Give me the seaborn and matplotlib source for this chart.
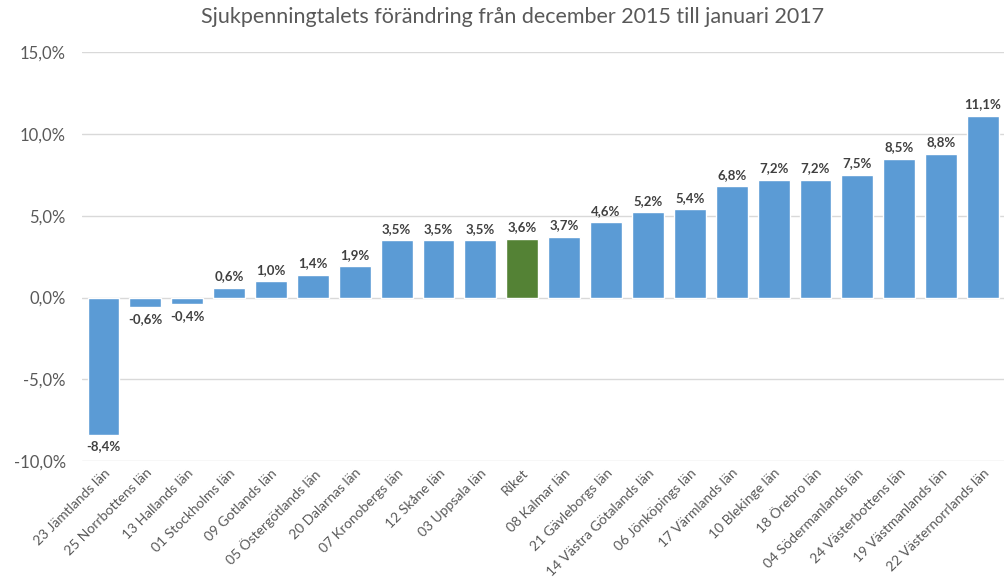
import matplotlib
matplotlib.use("Agg")
import matplotlib.pyplot as plt
import seaborn as sns
import pandas as pd

regions = [
    "23 Jämtlands län", "25 Norrbottens län", "13 Hallands län", "01 Stockholms län",
    "09 Gotlands län", "05 Östergötlands län", "20 Dalarnas län", "07 Kronobergs län",
    "12 Skåne län", "03 Uppsala län", "Riket", "08 Kalmar län", "21 Gävleborgs län",
    "14 Västra Götalands län", "06 Jönköpings län", "17 Värmlands län", "10 Blekinge län",
    "18 Örebro län", "04 Södermanlands län", "24 Västerbottens län", "19 Västmanlands län",
    "22 Västernorrlands län",
]
change = [-8.4, -0.6, -0.4, 0.6, 1.0, 1.4, 1.9, 3.5, 3.5, 3.5, 3.6, 3.7, 4.6,
          5.2, 5.4, 6.8, 7.2, 7.2, 7.5, 8.5, 8.8, 11.1]
yticks = [-10, -5, 0, 5, 10, 15]

BLUE = "#5B9BD5"
GREEN = "#548235"
GRAY = "#595959"

df = pd.DataFrame({"region": regions, "change": change})
palette = [GREEN if r == "Riket" else BLUE for r in regions]

sns.set_style("white")
plt.rcParams["font.family"] = ["Lato", "DejaVu Sans"]

fig = plt.figure(figsize=(10.06, 5.86), dpi=100)
ax = fig.add_axes([0.082, 0.213, 0.916, 0.698])

sns.barplot(data=df, x="region", y="change", hue="region", palette=palette,
            legend=False, width=0.76, saturation=1, ax=ax, zorder=3)

for cont in ax.containers:
    labels = [f"{v:.1f}%".replace(".", ",") for v in cont.datavalues]
    ax.bar_label(cont, labels=labels, padding=4, fontsize=9.5, fontweight="bold",
                 color="#404040")

ax.set_ylim(-10, 15)
ax.set_yticks(yticks)
ax.set_yticklabels([f"{t:.1f}%".replace(".", ",") for t in yticks], fontsize=12, color=GRAY)
ax.yaxis.grid(True, color="#D9D9D9", linewidth=1, zorder=0)
ax.set_axisbelow(True)
ax.set_xlim(-0.5, len(regions) - 0.5)
for s in ax.spines.values():
    s.set_visible(False)
ax.tick_params(axis="both", length=0, pad=12)
ax.tick_params(axis="x", pad=4)
plt.setp(ax.get_xticklabels(), rotation=45, ha="right", rotation_mode="anchor",
         fontsize=10, color=GRAY)
ax.set_xlabel("")
ax.set_ylabel("")

fig.suptitle("Sjukpenningtalets förändring från december 2015 till januari 2017",
             x=0.51, y=0.988, fontsize=15.5, color=GRAY)

fig.savefig("out.png", dpi=100)
